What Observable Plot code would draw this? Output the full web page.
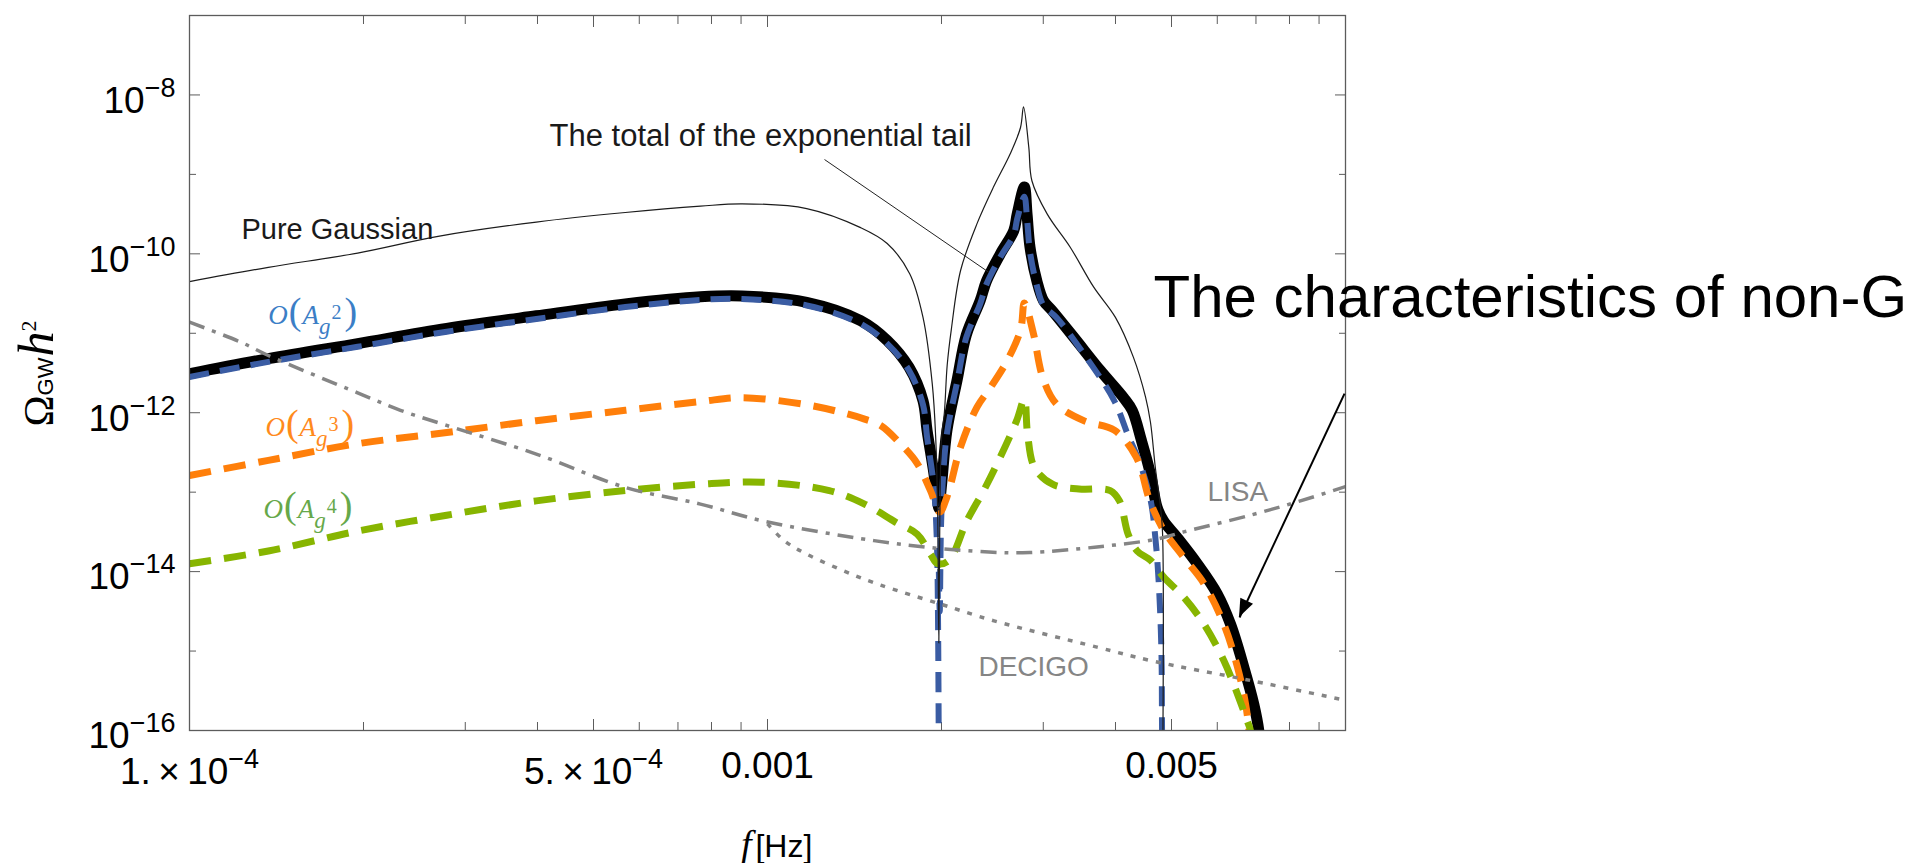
<!DOCTYPE html>
<html>
<head>
<meta charset="utf-8">
<script src="https://cdn.jsdelivr.net/npm/d3@7"></script>
<script src="https://cdn.jsdelivr.net/npm/@observablehq/plot@0.6"></script>
<style>
  html, body { margin: 0; padding: 0; background: #fff; }
  #chart { width: 1930px; height: 863px; }
</style>
</head>
<body>
<div id="chart"></div>
<script>
// Gravitational-wave spectra Ω_GW h² versus frequency f [Hz], as [f, Ω] pairs.

// Pure Gaussian curvature perturbation
const pureGaussian = [
  [1.000e-4, 4.467e-11], [1.369e-4, 6.761e-11], [1.954e-4, 1.023e-10], [2.692e-4, 1.660e-10],
  [3.981e-4, 2.512e-10], [5.675e-4, 3.311e-10], [7.656e-4, 3.981e-10], [9.036e-4, 4.266e-10],
  [1.169e-3, 3.715e-10], [1.449e-3, 2.138e-10], [1.611e-3, 1.349e-10], [1.762e-3, 5.623e-11],
  [1.858e-3, 1.585e-11], [1.928e-3, 2.291e-12], [1.954e-3, 5.012e-13], [1.970e-3, 5.012e-14],
  [1.979e-3, 1.259e-15], [1.987e-3, 5.012e-14], [2.001e-3, 5.012e-13], [2.023e-3, 1.000e-12],
  [2.046e-3, 3.981e-12], [2.080e-3, 1.122e-11], [2.158e-3, 6.166e-11], [2.304e-3, 2.399e-10],
  [2.460e-3, 6.918e-10], [2.630e-3, 1.820e-9], [2.740e-3, 3.890e-9], [2.773e-3, 7.079e-9],
  [2.832e-3, 2.188e-9], [2.867e-3, 8.318e-10], [3.048e-3, 3.162e-10], [3.342e-3, 1.202e-10],
  [3.668e-3, 3.802e-11], [3.999e-3, 1.585e-11], [4.295e-3, 5.012e-12], [4.508e-3, 1.585e-12],
  [4.598e-3, 7.586e-13], [4.688e-3, 2.042e-13], [4.786e-3, 6.457e-14], [4.824e-3, 3.162e-14],
  [4.828e-3, 3.162e-17]
];

// Total of the exponential tail
const totalTail = [
  [1.000e-4, 3.090e-12], [1.369e-4, 4.786e-12], [1.954e-4, 7.413e-12], [2.786e-4, 1.148e-11],
  [3.981e-4, 1.660e-11], [5.675e-4, 2.344e-11], [7.656e-4, 2.884e-11], [9.036e-4, 2.951e-11],
  [1.169e-3, 2.455e-11], [1.449e-3, 1.445e-11], [1.611e-3, 8.128e-12], [1.758e-3, 3.715e-12],
  [1.858e-3, 1.413e-12], [1.888e-3, 6.026e-13], [1.941e-3, 1.698e-13], [1.970e-3, 7.586e-14],
  [1.979e-3, 6.310e-14], [1.988e-3, 7.943e-14], [2.004e-3, 1.413e-13], [2.044e-3, 6.026e-13],
  [2.128e-3, 2.570e-12], [2.208e-3, 9.550e-12], [2.333e-3, 2.570e-11], [2.393e-3, 4.571e-11],
  [2.529e-3, 1.000e-10], [2.667e-3, 1.950e-10], [2.704e-3, 3.162e-10], [2.782e-3, 6.918e-10],
  [2.812e-3, 3.162e-10], [2.846e-3, 1.202e-10], [2.924e-3, 4.571e-11], [3.003e-3, 2.570e-11],
  [3.112e-3, 1.905e-11], [3.396e-3, 8.710e-12], [3.767e-3, 3.388e-12], [4.130e-3, 1.549e-12],
  [4.276e-3, 1.072e-12], [4.436e-3, 4.467e-13], [4.598e-3, 1.698e-13], [4.721e-3, 6.457e-14],
  [4.842e-3, 4.365e-14], [5.113e-3, 2.692e-14], [5.539e-3, 1.259e-14], [5.998e-3, 5.248e-15],
  [6.324e-3, 2.188e-15], [6.668e-3, 6.310e-16], [6.940e-3, 2.138e-16], [7.079e-3, 1.000e-16],
  [7.161e-3, 3.162e-17]
];

// O(A_g^2) term: below and above the zero near 2 mHz
const orderA2Low = [
  [1.000e-4, 2.818e-12], [1.369e-4, 4.365e-12], [1.954e-4, 6.761e-12], [2.786e-4, 1.047e-11],
  [3.981e-4, 1.514e-11], [5.675e-4, 2.138e-11], [7.656e-4, 2.630e-11], [9.036e-4, 2.692e-11],
  [1.169e-3, 2.239e-11], [1.449e-3, 1.318e-11], [1.611e-3, 7.413e-12], [1.758e-3, 3.388e-12],
  [1.858e-3, 1.259e-12], [1.888e-3, 5.012e-13], [1.941e-3, 1.122e-13], [1.963e-3, 2.512e-14],
  [1.972e-3, 3.162e-15], [1.979e-3, 3.162e-17]
];
const orderA2High = [
  [1.979e-3, 1.000e-14], [1.986e-3, 3.162e-15], [1.995e-3, 3.162e-14], [2.009e-3, 1.259e-13],
  [2.044e-3, 5.495e-13], [2.128e-3, 2.399e-12], [2.208e-3, 8.913e-12], [2.333e-3, 2.344e-11],
  [2.393e-3, 4.169e-11], [2.529e-3, 9.120e-11], [2.667e-3, 1.738e-10], [2.704e-3, 2.754e-10],
  [2.782e-3, 5.248e-10], [2.812e-3, 2.754e-10], [2.846e-3, 1.047e-10], [2.924e-3, 3.981e-11],
  [3.003e-3, 2.239e-11], [3.162e-3, 1.585e-11], [3.526e-3, 5.495e-12], [3.981e-3, 1.413e-12],
  [4.198e-3, 5.370e-13], [4.416e-3, 2.239e-13], [4.603e-3, 7.762e-14], [4.688e-3, 2.692e-14],
  [4.753e-3, 7.079e-15], [4.803e-3, 1.000e-15], [4.814e-3, 1.318e-16], [4.819e-3, 3.162e-17]
];

// O(A_g^3) term
const orderA3 = [
  [1.000e-4, 1.622e-13], [1.369e-4, 2.512e-13], [1.954e-4, 4.074e-13], [2.786e-4, 5.623e-13],
  [3.981e-4, 7.943e-13], [5.675e-4, 1.072e-12], [7.656e-4, 1.380e-12], [9.036e-4, 1.549e-12],
  [1.169e-3, 1.259e-12], [1.349e-3, 1.000e-12], [1.472e-3, 8.318e-13], [1.570e-3, 6.918e-13],
  [1.698e-3, 4.074e-13], [1.816e-3, 2.291e-13], [1.914e-3, 1.047e-13], [1.985e-3, 5.623e-14],
  [2.044e-3, 8.710e-14], [2.158e-3, 3.715e-13], [2.304e-3, 1.175e-12], [2.432e-3, 2.089e-12],
  [2.600e-3, 4.571e-12], [2.742e-3, 1.122e-11], [2.782e-3, 2.399e-11], [2.886e-3, 9.772e-12],
  [2.992e-3, 2.818e-12], [3.162e-3, 1.288e-12], [3.524e-3, 7.943e-13], [3.981e-3, 6.026e-13],
  [4.345e-3, 2.754e-13], [4.592e-3, 7.586e-14], [4.848e-3, 3.311e-14], [5.248e-3, 1.514e-14],
  [5.689e-3, 7.079e-15], [6.158e-3, 2.188e-15], [6.501e-3, 6.310e-16], [6.714e-3, 2.188e-16],
  [6.808e-3, 1.000e-16], [6.871e-3, 3.162e-17]
];

// O(A_g^4) term
const orderA4 = [
  [1.000e-4, 1.259e-14], [1.369e-4, 1.820e-14], [1.954e-4, 3.236e-14], [2.786e-4, 5.129e-14],
  [3.981e-4, 7.762e-14], [5.675e-4, 1.047e-13], [7.656e-4, 1.259e-13], [9.795e-4, 1.334e-13],
  [1.279e-3, 1.047e-13], [1.472e-3, 7.079e-14], [1.667e-3, 4.169e-14], [1.816e-3, 2.951e-14],
  [1.914e-3, 1.660e-14], [1.970e-3, 1.259e-14], [2.059e-3, 1.380e-14], [2.213e-3, 4.365e-14],
  [2.366e-3, 1.047e-13], [2.512e-3, 2.512e-13], [2.698e-3, 7.943e-13], [2.782e-3, 1.479e-12],
  [2.818e-3, 5.370e-13], [2.897e-3, 2.042e-13], [3.112e-3, 1.259e-13], [3.459e-3, 1.096e-13],
  [3.917e-3, 1.047e-13], [4.064e-3, 7.762e-14], [4.207e-3, 2.951e-14], [4.360e-3, 1.820e-14],
  [4.603e-3, 1.380e-14], [4.848e-3, 8.511e-15], [5.248e-3, 4.786e-15], [5.689e-3, 2.188e-15],
  [6.158e-3, 7.586e-16], [6.501e-3, 2.884e-16], [6.761e-3, 1.318e-16], [6.847e-3, 1.000e-16],
  [6.918e-3, 3.162e-17]
];

// Detector sensitivity curves
const lisa = [
  [1.000e-4, 1.380e-11], [1.225e-4, 7.762e-12], [1.369e-4, 5.248e-12], [1.954e-4, 1.778e-12],
  [2.317e-4, 1.072e-12], [2.786e-4, 6.918e-13], [3.981e-4, 3.020e-13], [5.675e-4, 1.148e-13],
  [7.656e-4, 7.079e-14], [9.795e-4, 4.365e-14], [1.528e-3, 2.455e-14], [1.995e-3, 1.950e-14],
  [2.529e-3, 1.738e-14], [2.844e-3, 1.738e-14], [3.715e-3, 2.042e-14], [4.721e-3, 2.570e-14],
  [5.248e-3, 3.162e-14], [6.848e-3, 5.129e-14], [8.356e-3, 7.762e-14], [1.000e-2, 1.175e-13]
];
const decigo = [
  [1.000e-3, 3.981e-14], [1.069e-3, 2.455e-14], [1.169e-3, 1.660e-14], [1.396e-3, 9.333e-15],
  [1.570e-3, 6.761e-15], [1.995e-3, 3.890e-15], [2.466e-3, 2.399e-15], [3.715e-3, 1.122e-15],
  [4.603e-3, 7.586e-16], [6.848e-3, 4.266e-16], [1.000e-2, 2.399e-16]
];

// Axis ticks and their labels
const xLabelTicks = [1e-4, 5e-4, 1e-3, 5e-3];
const xTickLabels = ["1.\u2009×\u200910^−4", "5.\u2009×\u200910^−4", "0.001", "0.005"];
const xMajorTicks = [1e-4, 5e-4, 1e-3, 5e-3, 1e-2];
const xMinorTicks = [2e-4, 3e-4, 4e-4, 6e-4, 7e-4, 8e-4, 9e-4, 2e-3, 3e-3, 4e-3, 6e-3, 7e-3, 8e-3, 9e-3];
const yLabelTicks = [1e-16, 1e-14, 1e-12, 1e-10, 1e-8];
const yTickLabels = ["10^−16", "10^−14", "10^−12", "10^−10", "10^−8"];
const yMinorTicks = [1e-15, 1e-13, 1e-11, 1e-9, 1e-7];

// Annotations, anchored in (f, Ω)
const curveNotes = [{f: 1.230e-4, omega: 1.557e-10, text: "Pure Gaussian"}];
const tailNotes = [{f: 4.196e-4, omega: 2.307e-9, text: "The total of the exponential tail"}];
const leader = [{f1: 1.255e-3, omega1: 1.538e-9, f2: 2.415e-3, omega2: 5.861e-11}];
const detectorNotes = [
  {f: 5.770e-3, omega: 7.834e-14, text: "LISA"},
  {f: 2.317e-3, omega: 4.909e-16, text: "DECIGO"}
];
const orderNotes = [
  {f: 1.369e-4, omega: 1.326e-11, text: "O(A_g^2)", color: "#3b7ec6"},
  {f: 1.353e-4, omega: 5.158e-13, text: "O(A_g^3)", color: "#ff8a1c"},
  {f: 1.343e-4, omega: 4.789e-14, text: "O(A_g^4)", color: "#66a84a"}
];
const headline = [{f: 4.654e-3, omega: 1.624e-11, text: "The characteristics of non-G"}];
const arrowFrom = {f: 9.961e-3, omega: 1.742e-12};
const arrowTo = {f: 6.556e-3, omega: 2.642e-15};
const yTitle = [{f: 5.817e-5, omega: 3.112e-12, text: "Ω_GW h^2"}];
const xTitle = [{f: 1.037e-3, omega: 2.588e-18, text: "f[Hz]"}];

const SANS = "'Liberation Sans', Arial, Helvetica, sans-serif";
const SERIF = "'Liberation Serif', 'DejaVu Serif', 'Times New Roman', serif";
const FRAME = "#5c5c5c";
const GRAY = "#858585";

const rows = (pairs, branch = "a") => pairs.map(([f, omega]) => ({f, omega, branch}));
const blueRows = [...rows(orderA2Low, "low"), ...rows(orderA2High, "high")];

const lineOpts = {x: "f", y: "omega", curve: "catmull-rom", clip: true};
const dashed = {strokeLinecap: "butt"};
const blank = () => "";

const svg = Plot.plot({
  width: 1930,
  height: 863,
  marginLeft: 189,
  marginRight: 585,
  marginTop: 15,
  marginBottom: 133,
  x: {type: "log", domain: [1e-4, 1e-2], label: null},
  y: {type: "log", domain: [1e-16, 1e-7], label: null},
  style: {fontFamily: SANS, background: "#fff", overflow: "visible"},
  marks: [
    // inward ticks on all four sides
    Plot.axisX(xMinorTicks, {anchor: "bottom", tickSize: -8, tickFormat: blank, stroke: FRAME, label: null}),
    Plot.axisX(xMajorTicks, {anchor: "bottom", tickSize: -11, tickFormat: blank, stroke: FRAME, label: null}),
    Plot.axisX(xMinorTicks, {anchor: "top", tickSize: -8, tickFormat: blank, stroke: FRAME, label: null}),
    Plot.axisX(xMajorTicks, {anchor: "top", tickSize: -11, tickFormat: blank, stroke: FRAME, label: null}),
    Plot.axisY(yLabelTicks, {anchor: "left", tickSize: -11, tickFormat: blank, stroke: FRAME, label: null}),
    Plot.axisY(yMinorTicks, {anchor: "left", tickSize: -7, tickFormat: blank, stroke: FRAME, label: null}),
    Plot.axisY(yLabelTicks, {anchor: "right", tickSize: -11, tickFormat: blank, stroke: FRAME, label: null}),
    Plot.axisY(yMinorTicks, {anchor: "right", tickSize: -7, tickFormat: blank, stroke: FRAME, label: null}),
    // tick labels
    Plot.axisX(xLabelTicks, {
      anchor: "bottom", tickSize: 0, tickPadding: 21, fontSize: 37, fill: "#000", label: null,
      tickFormat: (d) => xTickLabels[xLabelTicks.indexOf(d)]
    }),
    Plot.axisY(yLabelTicks, {
      anchor: "left", tickSize: 0, tickPadding: 14, fontSize: 37, fill: "#000", label: null,
      tickFormat: (d) => yTickLabels[yLabelTicks.indexOf(d)]
    }),

    // spectra
    Plot.line(rows(totalTail), {...lineOpts, stroke: "#000", strokeWidth: 11, strokeLinejoin: "miter", strokeMiterlimit: 5}),
    Plot.line(blueRows, {...lineOpts, ...dashed, z: "branch", stroke: "#3a5ca3", strokeWidth: 6, strokeDasharray: "20,11"}),
    Plot.line(rows(orderA3), {...lineOpts, ...dashed, stroke: "#ff7f0a", strokeWidth: 7, strokeDasharray: "22,13"}),
    Plot.line(rows(orderA4), {...lineOpts, ...dashed, stroke: "#87b500", strokeWidth: 7, strokeDasharray: "22,13"}),
    Plot.line(rows(pureGaussian), {...lineOpts, stroke: "#1c1c1c", strokeWidth: 1.2}),
    Plot.line(rows(lisa), {...lineOpts, ...dashed, stroke: GRAY, strokeWidth: 3.5, strokeDasharray: "16,8,4,8"}),
    Plot.line(rows(decigo), {...lineOpts, ...dashed, stroke: GRAY, strokeWidth: 3.5, strokeDasharray: "5,8"}),

    Plot.frame({stroke: FRAME, strokeWidth: 1.3}),

    // annotations
    Plot.link(leader, {x1: "f1", y1: "omega1", x2: "f2", y2: "omega2", stroke: "#222", strokeWidth: 1}),
    Plot.text(curveNotes, {x: "f", y: "omega", text: "text", textAnchor: "start", lineAnchor: "bottom", fontSize: 29, fill: "#1a1a1a"}),
    Plot.text(tailNotes, {x: "f", y: "omega", text: "text", textAnchor: "start", lineAnchor: "bottom", fontSize: 31, fill: "#1a1a1a"}),
    Plot.text(detectorNotes, {x: "f", y: "omega", text: "text", textAnchor: "start", lineAnchor: "bottom", fontSize: 28, fill: GRAY}),
    Plot.text(orderNotes, {x: "f", y: "omega", text: "text", fill: "color", textAnchor: "start", lineAnchor: "bottom", fontFamily: SERIF, fontSize: 27}),
    Plot.text(headline, {x: "f", y: "omega", text: "text", textAnchor: "start", lineAnchor: "bottom", fontSize: 60, fill: "#000"}),
    Plot.link([{f1: arrowFrom.f, omega1: arrowFrom.omega, f2: arrowTo.f, omega2: arrowTo.omega}],
      {x1: "f1", y1: "omega1", x2: "f2", y2: "omega2", stroke: "#000", strokeWidth: 2}),
    Plot.text(yTitle, {x: "f", y: "omega", text: "text", rotate: -90, textAnchor: "middle", lineAnchor: "bottom", fontFamily: SERIF, fontSize: 42, fill: "#000"}),
    Plot.text(xTitle, {x: "f", y: "omega", text: "text", textAnchor: "middle", lineAnchor: "bottom", fontSize: 32, fill: "#000"})
  ]
});
document.getElementById("chart").append(svg);

// Typeset superscripts, subscripts and mixed fonts with tspans
const NS = "http://www.w3.org/2000/svg";
function setRich(el, parts) {
  el.textContent = "";
  for (const [content, attrs] of parts) {
    const ts = document.createElementNS(NS, "tspan");
    ts.textContent = content;
    for (const [k, v] of Object.entries(attrs)) ts.setAttribute(k, v);
    el.appendChild(ts);
  }
}

for (const el of svg.querySelectorAll("text")) {
  const s = el.textContent;
  if (/^O\(A_g\^\d\)$/.test(s)) {
    const n = s.charAt(s.length - 2);
    setRich(el, [
      ["O", {"font-style": "italic", "font-size": 27}],
      ["(", {"font-size": 38, dx: 1}],
      ["A", {"font-style": "italic", "font-size": 27, dx: 1}],
      ["g", {"font-style": "italic", "font-size": 23, dy: 10}],
      [n, {"font-size": 20, dy: -15, dx: 1}],
      [")", {"font-size": 38, dy: 5, dx: 3}]
    ]);
  } else if (s === "Ω_GW h^2") {
    setRich(el, [
      ["Ω", {"font-size": 42}],
      ["GW", {"font-size": 22, "font-family": SANS}],
      ["h", {"font-size": 50, "font-style": "italic", dx: 1}],
      ["2", {"font-size": 22, dy: -17}]
    ]);
  } else if (s === "f[Hz]") {
    setRich(el, [
      ["f", {"font-size": 38, "font-style": "italic", "font-family": SERIF}],
      ["[Hz]", {"font-size": 32, dx: 4}]
    ]);
  } else if (s.includes("^")) {
    // tick labels such as 10^−8 or 1. × 10^−4
    const k = s.indexOf("^");
    setRich(el, [[s.slice(0, k), {dy: 6}], [s.slice(k + 1), {dy: -16, "font-size": 27}]]);
  }
}

// Filled arrowhead at the tip of the pointer
const sx = svg.scale("x"), sy = svg.scale("y");
const ax = sx.apply(arrowFrom.f), ay = sy.apply(arrowFrom.omega);
const bx = sx.apply(arrowTo.f), by = sy.apply(arrowTo.omega);
const len = Math.hypot(bx - ax, by - ay);
const ux = (bx - ax) / len, uy = (by - ay) / len;
const headLength = 18, headHalf = 7;
const cx = bx - ux * headLength, cy = by - uy * headLength;
const head = document.createElementNS(NS, "path");
head.setAttribute("d", `M${bx},${by}L${cx - uy * headHalf},${cy + ux * headHalf}L${cx + uy * headHalf},${cy - ux * headHalf}Z`);
head.setAttribute("fill", "#000");
svg.appendChild(head);
</script>
</body>
</html>
